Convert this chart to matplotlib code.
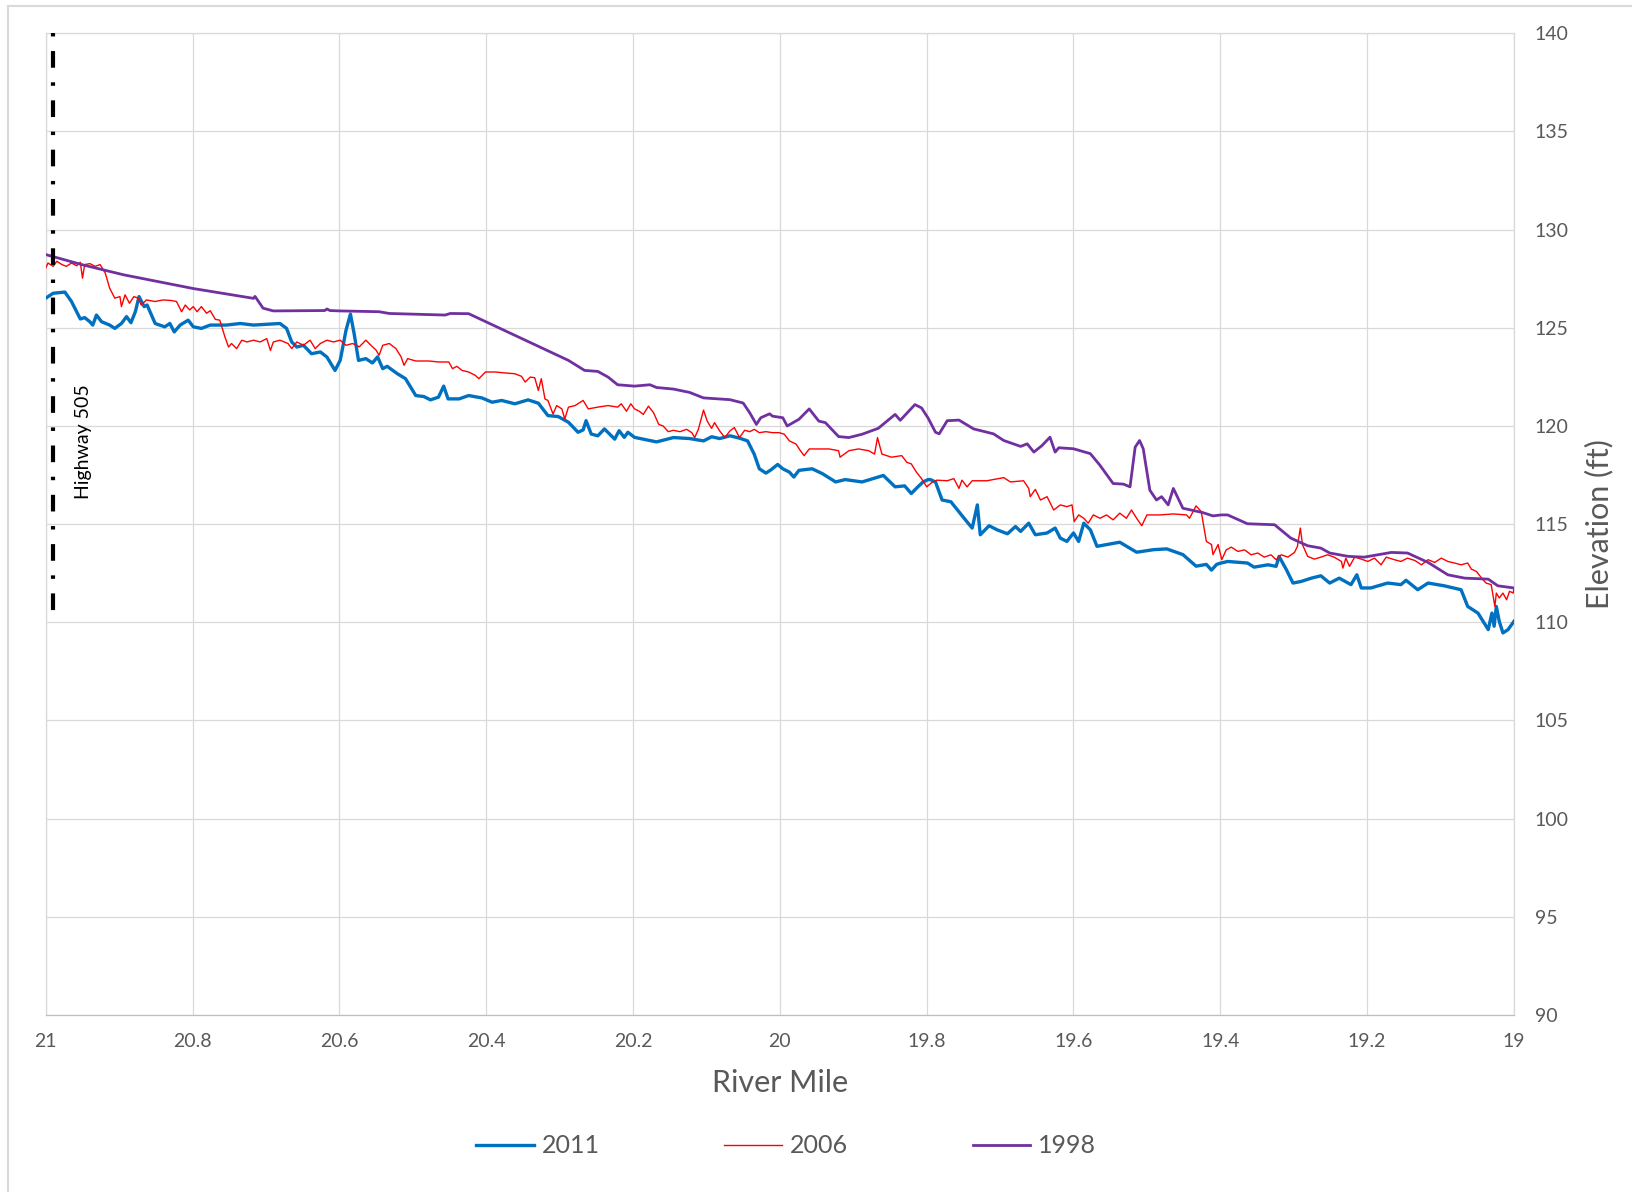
import matplotlib
matplotlib.use('Agg')
import matplotlib.pyplot as plt
from matplotlib.lines import Line2D

plt.rcParams['font.family'] = ['Lato', 'DejaVu Sans']
plt.rcParams['lines.scale_dashes'] = False

# --- data (river mile, elevation ft) ---
MILE_2011 = [21.000, 20.990, 20.974, 20.965, 20.953, 20.947, 20.940, 20.936, 20.931, 20.924,
             20.913, 20.906, 20.897, 20.890, 20.884, 20.878, 20.873, 20.866, 20.862, 20.851,
             20.838, 20.831, 20.825, 20.817, 20.806, 20.799, 20.788, 20.776, 20.754, 20.735,
             20.717, 20.681, 20.672, 20.665, 20.658, 20.649, 20.638, 20.626, 20.617, 20.606,
             20.599, 20.598, 20.591, 20.585, 20.580, 20.574, 20.564, 20.555, 20.548, 20.541,
             20.535, 20.521, 20.510, 20.496, 20.485, 20.476, 20.465, 20.458, 20.452, 20.437,
             20.424, 20.406, 20.392, 20.379, 20.361, 20.343, 20.329, 20.316, 20.302, 20.288,
             20.275, 20.268, 20.264, 20.257, 20.248, 20.239, 20.225, 20.219, 20.212, 20.207,
             20.198, 20.186, 20.168, 20.145, 20.123, 20.104, 20.093, 20.082, 20.068, 20.055,
             20.044, 20.035, 20.028, 20.019, 20.012, 20.003, 19.996, 19.987, 19.981, 19.974,
             19.956, 19.942, 19.924, 19.911, 19.888, 19.859, 19.843, 19.830, 19.821, 19.812,
             19.805, 19.798, 19.795, 19.788, 19.779, 19.767, 19.749, 19.738, 19.731, 19.727,
             19.715, 19.704, 19.690, 19.679, 19.672, 19.661, 19.652, 19.636, 19.625, 19.618,
             19.609, 19.600, 19.593, 19.586, 19.577, 19.568, 19.555, 19.537, 19.514, 19.491,
             19.473, 19.451, 19.433, 19.419, 19.412, 19.405, 19.401, 19.390, 19.363, 19.354,
             19.335, 19.324, 19.320, 19.310, 19.301, 19.290, 19.276, 19.263, 19.251, 19.238,
             19.222, 19.214, 19.208, 19.195, 19.172, 19.154, 19.147, 19.131, 19.117, 19.095,
             19.072, 19.063, 19.049, 19.035, 19.030, 19.027, 19.024, 19.020, 19.015, 19.008,
             19.000]
ELEV_2011 = [126.51, 126.76, 126.82, 126.34, 125.45, 125.52, 125.31, 125.14, 125.65, 125.31,
             125.14, 124.97, 125.22, 125.57, 125.26, 125.82, 126.59, 126.08, 126.16, 125.22,
             125.05, 125.22, 124.79, 125.14, 125.39, 125.05, 124.97, 125.14, 125.14, 125.22,
             125.14, 125.22, 124.97, 124.28, 124.02, 124.11, 123.68, 123.77, 123.51, 122.83,
             123.34, 123.52, 124.88, 125.70, 124.71, 123.34, 123.43, 123.21, 123.52, 122.92,
             123.04, 122.66, 122.41, 121.55, 121.50, 121.33, 121.47, 122.03, 121.38, 121.38,
             121.55, 121.43, 121.21, 121.30, 121.13, 121.33, 121.16, 120.53, 120.48, 120.19,
             119.68, 119.80, 120.27, 119.59, 119.50, 119.85, 119.33, 119.76, 119.42, 119.68,
             119.42, 119.33, 119.19, 119.41, 119.36, 119.24, 119.45, 119.36, 119.50, 119.38,
             119.24, 118.57, 117.82, 117.60, 117.77, 118.04, 117.82, 117.65, 117.40, 117.74,
             117.82, 117.57, 117.15, 117.27, 117.15, 117.48, 116.90, 116.95, 116.56, 116.90,
             117.15, 117.27, 117.27, 117.15, 116.23, 116.14, 115.30, 114.80, 115.98, 114.46,
             114.92, 114.71, 114.51, 114.88, 114.63, 115.05, 114.46, 114.55, 114.80, 114.29,
             114.12, 114.55, 114.12, 115.05, 114.71, 113.87, 113.96, 114.08, 113.57, 113.70,
             113.74, 113.45, 112.86, 112.95, 112.66, 112.95, 113.00, 113.10, 113.02, 112.81,
             112.93, 112.85, 113.36, 112.68, 112.00, 112.08, 112.25, 112.37, 112.00, 112.25,
             111.92, 112.42, 111.75, 111.75, 112.00, 111.92, 112.14, 111.66, 112.00, 111.86,
             111.66, 110.81, 110.47, 109.63, 110.47, 109.80, 110.81, 110.05, 109.46, 109.63,
             110.05]

MILE_2006 = [21.000, 20.997, 20.990, 20.985, 20.978, 20.972, 20.965, 20.958, 20.953, 20.950,
             20.947, 20.940, 20.933, 20.926, 20.919, 20.913, 20.906, 20.899, 20.897, 20.892,
             20.886, 20.880, 20.874, 20.870, 20.863, 20.851, 20.840, 20.829, 20.822, 20.815,
             20.810, 20.804, 20.799, 20.794, 20.788, 20.781, 20.776, 20.769, 20.763, 20.756,
             20.751, 20.747, 20.740, 20.733, 20.726, 20.717, 20.708, 20.699, 20.694, 20.690,
             20.681, 20.670, 20.665, 20.658, 20.649, 20.640, 20.633, 20.626, 20.617, 20.608,
             20.599, 20.591, 20.582, 20.573, 20.564, 20.557, 20.550, 20.546, 20.541, 20.532,
             20.523, 20.516, 20.512, 20.507, 20.496, 20.478, 20.465, 20.451, 20.446, 20.440,
             20.433, 20.424, 20.415, 20.410, 20.401, 20.388, 20.374, 20.361, 20.352, 20.347,
             20.340, 20.334, 20.329, 20.325, 20.320, 20.316, 20.309, 20.304, 20.297, 20.293,
             20.288, 20.279, 20.268, 20.261, 20.248, 20.234, 20.221, 20.216, 20.209, 20.203,
             20.198, 20.192, 20.186, 20.179, 20.172, 20.165, 20.159, 20.152, 20.145, 20.136,
             20.127, 20.120, 20.116, 20.111, 20.104, 20.099, 20.093, 20.089, 20.082, 20.075,
             20.068, 20.062, 20.055, 20.048, 20.041, 20.035, 20.028, 20.019, 20.010, 20.001,
             19.994, 19.987, 19.978, 19.972, 19.967, 19.960, 19.947, 19.933, 19.920, 19.918,
             19.906, 19.893, 19.879, 19.871, 19.867, 19.861, 19.848, 19.834, 19.827, 19.821,
             19.814, 19.807, 19.800, 19.792, 19.786, 19.772, 19.763, 19.756, 19.752, 19.745,
             19.738, 19.718, 19.695, 19.686, 19.668, 19.661, 19.659, 19.652, 19.645, 19.636,
             19.627, 19.618, 19.609, 19.602, 19.599, 19.593, 19.586, 19.580, 19.573, 19.564,
             19.555, 19.546, 19.537, 19.528, 19.521, 19.514, 19.507, 19.500, 19.482, 19.464,
             19.446, 19.442, 19.433, 19.426, 19.419, 19.412, 19.410, 19.403, 19.398, 19.392,
             19.385, 19.376, 19.367, 19.358, 19.349, 19.340, 19.331, 19.324, 19.317, 19.308,
             19.299, 19.295, 19.291, 19.288, 19.281, 19.272, 19.263, 19.254, 19.245, 19.235,
             19.233, 19.229, 19.224, 19.217, 19.208, 19.199, 19.190, 19.181, 19.174, 19.163,
             19.154, 19.145, 19.135, 19.126, 19.117, 19.108, 19.099, 19.090, 19.081, 19.072,
             19.063, 19.058, 19.051, 19.044, 19.038, 19.031, 19.026, 19.024, 19.020, 19.015,
             19.010, 19.006, 19.001, 19.000]
ELEV_2006 = [128.05, 128.30, 128.13, 128.39, 128.22, 128.13, 128.30, 128.16, 128.34, 127.53,
             128.22, 128.27, 128.13, 128.22, 127.79, 127.02, 126.51, 126.59, 126.08, 126.68,
             126.25, 126.59, 126.51, 126.16, 126.42, 126.34, 126.42, 126.39, 126.34, 125.82,
             126.16, 125.91, 126.08, 125.82, 126.08, 125.74, 125.87, 125.43, 125.39, 124.54,
             124.02, 124.20, 123.94, 124.37, 124.28, 124.37, 124.28, 124.45, 123.85, 124.28,
             124.37, 124.20, 123.94, 124.28, 124.11, 124.37, 123.94, 124.20, 124.37, 124.28,
             124.37, 124.11, 124.20, 124.03, 124.37, 124.11, 123.86, 123.60, 124.11, 124.20,
             123.94, 123.52, 123.09, 123.43, 123.31, 123.31, 123.26, 123.26, 122.92, 123.04,
             122.83, 122.75, 122.58, 122.41, 122.75, 122.75, 122.70, 122.66, 122.53, 122.24,
             122.49, 122.46, 121.81, 122.41, 121.38, 121.30, 120.61, 121.04, 120.87, 120.36,
             120.96, 121.04, 121.30, 120.87, 120.96, 121.04, 120.96, 121.13, 120.75, 121.13,
             120.87, 120.76, 120.59, 121.01, 120.67, 120.08, 120.00, 119.71, 119.78, 119.71,
             119.83, 119.66, 119.41, 119.83, 120.81, 120.25, 119.88, 120.17, 119.75, 119.41,
             119.75, 119.92, 119.41, 119.78, 119.71, 119.83, 119.66, 119.71, 119.66, 119.66,
             119.58, 119.24, 119.08, 118.74, 118.49, 118.83, 118.83, 118.83, 118.74, 118.41,
             118.74, 118.83, 118.74, 118.57, 119.41, 118.57, 118.41, 118.49, 118.15, 118.07,
             117.65, 117.32, 116.90, 117.15, 117.24, 117.21, 117.32, 116.82, 117.24, 116.90,
             117.21, 117.21, 117.37, 117.15, 117.21, 116.82, 116.40, 116.77, 116.23, 116.40,
             115.72, 115.98, 115.89, 115.98, 115.13, 115.47, 115.30, 115.05, 115.47, 115.30,
             115.47, 115.22, 115.56, 115.30, 115.72, 115.30, 114.92, 115.47, 115.47, 115.52,
             115.47, 115.30, 115.93, 115.64, 114.12, 113.96, 113.45, 113.96, 113.19, 113.69,
             113.83, 113.61, 113.69, 113.44, 113.53, 113.32, 113.44, 113.19, 113.44, 113.32,
             113.56, 113.86, 114.80, 113.95, 113.36, 113.22, 113.32, 113.44, 113.32, 113.10,
             112.76, 113.27, 112.85, 113.32, 113.22, 113.10, 113.27, 112.93, 113.32, 113.19,
             113.10, 113.27, 113.15, 112.93, 113.19, 113.05, 113.27, 113.10, 113.02, 112.93,
             113.02, 112.71, 112.59, 112.25, 112.00, 111.92, 110.81, 111.49, 111.24, 111.49,
             111.15, 111.58, 111.49, 111.75]

MILE_1998 = [21.000, 20.949, 20.894, 20.799, 20.717, 20.715, 20.704, 20.690, 20.620, 20.617,
             20.613, 20.599, 20.546, 20.532, 20.456, 20.449, 20.424, 20.288, 20.266, 20.248,
             20.234, 20.221, 20.198, 20.177, 20.168, 20.145, 20.123, 20.104, 20.068, 20.050,
             20.041, 20.032, 20.026, 20.014, 20.010, 19.996, 19.990, 19.974, 19.960, 19.947,
             19.938, 19.920, 19.906, 19.888, 19.866, 19.843, 19.836, 19.816, 19.807, 19.798,
             19.788, 19.783, 19.772, 19.756, 19.736, 19.709, 19.695, 19.672, 19.663, 19.654,
             19.643, 19.632, 19.625, 19.620, 19.600, 19.577, 19.564, 19.546, 19.532, 19.523,
             19.516, 19.510, 19.505, 19.496, 19.487, 19.480, 19.471, 19.464, 19.451, 19.424,
             19.410, 19.399, 19.390, 19.363, 19.326, 19.304, 19.281, 19.263, 19.251, 19.226,
             19.204, 19.167, 19.145, 19.117, 19.090, 19.067, 19.035, 19.022, 19.000]
ELEV_1998 = [128.73, 128.20, 127.70, 127.00, 126.50, 126.60, 126.00, 125.86, 125.88, 125.96,
             125.88, 125.86, 125.82, 125.73, 125.65, 125.73, 125.72, 123.34, 122.83, 122.78,
             122.49, 122.10, 122.03, 122.10, 121.96, 121.88, 121.71, 121.43, 121.34, 121.17,
             120.67, 120.08, 120.42, 120.62, 120.50, 120.42, 120.00, 120.34, 120.87, 120.25,
             120.17, 119.46, 119.41, 119.58, 119.88, 120.59, 120.29, 121.09, 120.92, 120.40,
             119.68, 119.60, 120.27, 120.30, 119.85, 119.60, 119.26, 118.96, 119.09, 118.67,
             119.00, 119.43, 118.67, 118.89, 118.84, 118.59, 118.00, 117.07, 117.04, 116.90,
             118.92, 119.26, 118.84, 116.73, 116.23, 116.40, 115.98, 116.82, 115.81, 115.59,
             115.42, 115.47, 115.47, 115.02, 114.97, 114.29, 113.90, 113.78, 113.53, 113.36,
             113.32, 113.56, 113.53, 113.05, 112.42, 112.25, 112.20, 111.86, 111.75]

SERIES = ['2011', '2006', '1998']
COLORS = {'2011': '#0070C0', '2006': '#FF0000', '1998': '#7030A0'}
WIDTHS = {'2011': 2.4, '2006': 1.0, '1998': 2.0}

HWY_MILE = 20.99
HWY_RANGE = [140, 110]
HWY_LABEL = 'Highway 505'

X_TICKS = [21, 20.8, 20.6, 20.4, 20.2, 20, 19.8, 19.6, 19.4, 19.2, 19]
Y_TICKS = list(range(90, 141, 5))

GRID = '#D9D9D9'
TEXT = '#595959'

fig = plt.figure(figsize=(16.32, 11.92), dpi=100)
ax = fig.add_axes([0.02806, 0.14849, 0.8996, 0.82357])

data = {'2011': (MILE_2011, ELEV_2011),
        '2006': (MILE_2006, ELEV_2006),
        '1998': (MILE_1998, ELEV_1998)}
for name in SERIES:
    x, y = data[name]
    ax.plot(x, y, color=COLORS[name], lw=WIDTHS[name], solid_joinstyle='round', zorder=3)

# highway crossing marker (dot, dash, dot, dash ... from the top)
ax.plot([HWY_MILE, HWY_MILE], HWY_RANGE, color='black', lw=3.0,
        linestyle=(0, (2.5, 10.5, 12, 10.5)), dash_capstyle='butt', zorder=5)
ax.text(20.949, 119.2, HWY_LABEL, rotation=90, ha='center', va='center',
        fontsize=14, color='black', zorder=6)

ax.set_xlim(21, 19)
ax.set_ylim(90, 140)
ax.set_xticks(X_TICKS)
ax.set_xticklabels([f'{t:g}' for t in X_TICKS])
ax.set_yticks(Y_TICKS)
ax.yaxis.tick_right()
ax.tick_params(axis='x', length=0, pad=13, labelsize=14, labelcolor=TEXT)
ax.tick_params(axis='y', length=0, pad=15, labelsize=14, labelcolor=TEXT)
for lab in ax.get_yticklabels():
    lab.set_horizontalalignment('left')
ax.grid(True, color=GRID, lw=0.9)
ax.set_axisbelow(True)
for side, sp in ax.spines.items():
    sp.set_color(GRID)
    sp.set_linewidth(0.9)
ax.spines['bottom'].set_color('#BFBFBF')

ax.set_xlabel('River Mile', fontsize=22, color=TEXT, labelpad=14)
fig.text(1599 / 1632, 1 - 524 / 1192, 'Elevation (ft)', rotation=90,
         ha='center', va='center', fontsize=22, color=TEXT)

handles = [Line2D([], [], color=COLORS[n], lw=WIDTHS[n]) for n in SERIES]
fig.legend(handles, SERIES, loc='center', bbox_to_anchor=(0.4816, 0.0386),
           ncol=3, frameon=False, fontsize=18, handlelength=2.3,
           handletextpad=0.3, columnspacing=5.0, labelcolor=TEXT)

# chart area border (left and top edges visible)
fig.add_artist(Line2D([8 / 1632, 8 / 1632], [0, 1 - 6 / 1192], color=GRID, lw=1.5,
                      transform=fig.transFigure))
fig.add_artist(Line2D([8 / 1632, 1], [1 - 6 / 1192, 1 - 6 / 1192], color=GRID, lw=1.5,
                      transform=fig.transFigure))

fig.savefig('out.png', dpi=100, facecolor='white')
